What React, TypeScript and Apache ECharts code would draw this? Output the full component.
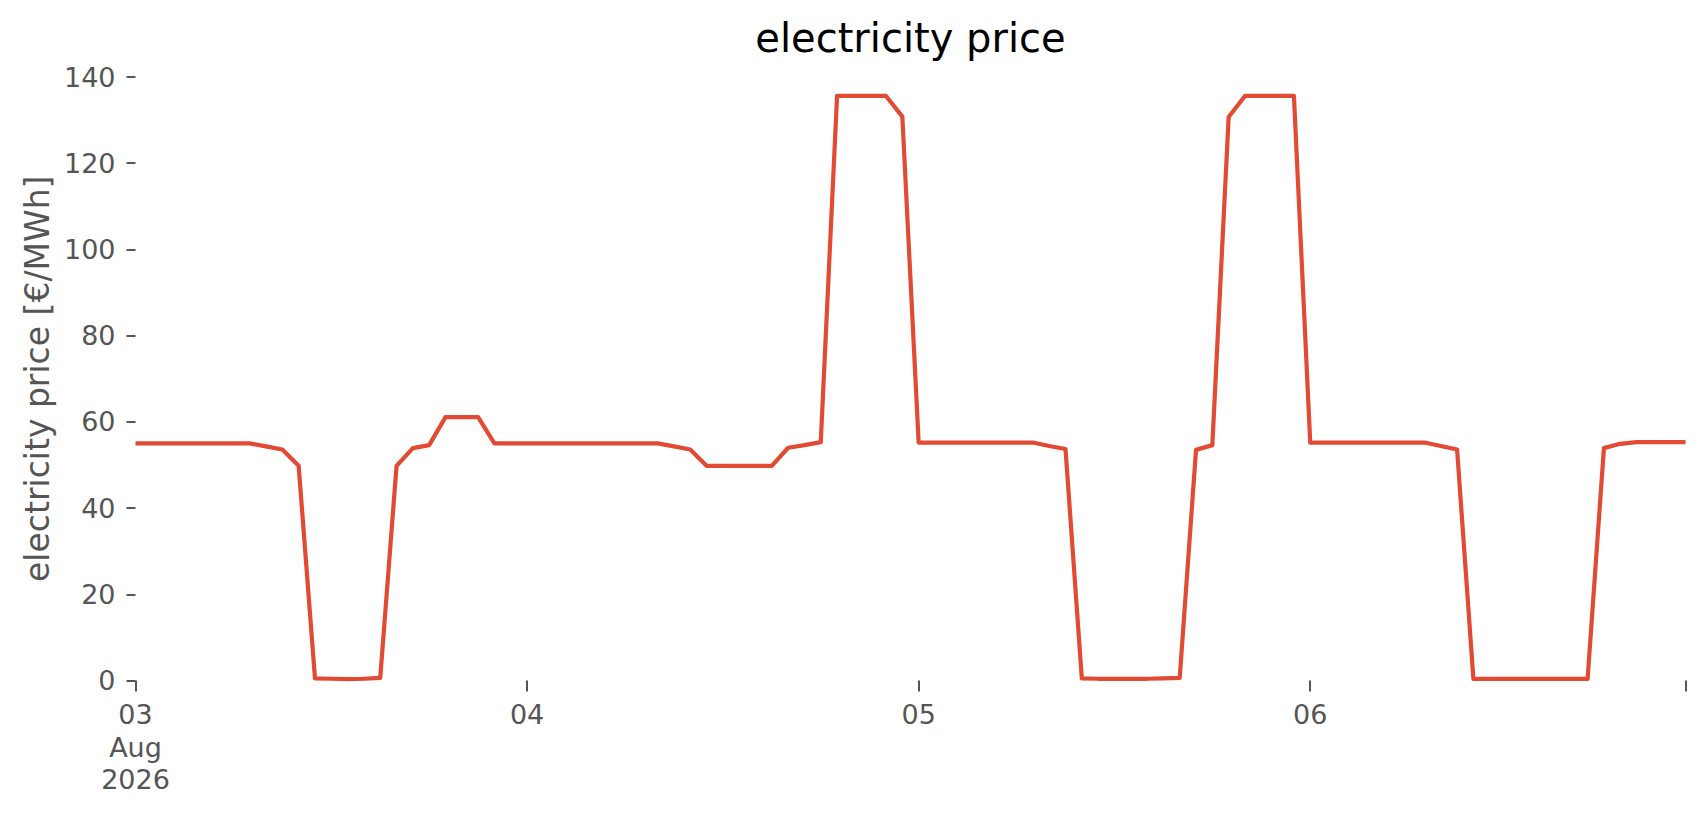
import React, { useEffect, useRef } from 'react'
import * as echarts from 'echarts'

// hourly prices from 03 Aug 2026 00:00, in €/MWh
const prices = [
  55.0, 55.0, 55.0, 55.0, 55.0, 55.0, 55.0, 55.0, 54.3, 53.6, 49.8, 0.5, 0.4, 0.3, 0.4, 0.6,
  49.8, 53.9, 54.6, 61.1, 61.1, 61.1, 55.0, 55.0, 55.0, 55.0, 55.0, 55.0, 55.0, 55.0, 55.0, 55.0,
  55.0, 54.3, 53.6, 49.8, 49.8, 49.8, 49.8, 49.8, 54.0, 54.6, 55.3, 135.6, 135.6, 135.6, 135.6, 130.8,
  55.2, 55.2, 55.2, 55.2, 55.2, 55.2, 55.2, 55.2, 54.4, 53.7, 0.5, 0.4, 0.4, 0.4, 0.4, 0.5,
  0.6, 53.5, 54.6, 130.7, 135.6, 135.6, 135.6, 135.6, 55.2, 55.2, 55.2, 55.2, 55.2, 55.2, 55.2, 55.2,
  54.4, 53.6, 0.4, 0.4, 0.4, 0.4, 0.4, 0.4, 0.4, 0.4, 53.9, 54.9, 55.3, 55.3, 55.3, 55.3,
]

const dayHours = [0, 24, 48, 72]
const dayLabels = ['03\nAug\n2026', '04', '05', '06']
const tickHours = [0, 24, 48, 72, 95]

const GREY = '#555555'
const FONT = '"DejaVu Sans", sans-serif'

export default function App() {
  const ref = useRef<HTMLDivElement | null>(null)

  useEffect(() => {
    if (!ref.current) return
    const chart = echarts.init(ref.current, null, { renderer: 'svg' })
    const left = 135.5, right = 20.5, top = 77, bottom = 134.5

    chart.setOption({
      animation: false,
      backgroundColor: '#ffffff',
      textStyle: { fontFamily: FONT },
      grid: { left, right, top, bottom, containLabel: false },
      graphic: [
        {
          type: 'text',
          x: left + (1706 - left - right) / 2,
          y: 38,
          style: {
            text: 'electricity price',
            fontFamily: FONT,
            fontSize: 40,
            fill: '#000000',
            align: 'center',
            verticalAlign: 'middle',
          },
        },
        {
          type: 'text',
          x: 37,
          y: top + (815 - top - bottom) / 2,
          rotation: Math.PI / 2,
          style: {
            text: 'electricity price [€/MWh]',
            fontFamily: FONT,
            fontSize: 33,
            fill: GREY,
            align: 'center',
            verticalAlign: 'middle',
          },
        },
      ],
      xAxis: {
        type: 'value',
        min: 0,
        max: prices.length - 1,
        axisLine: { show: false },
        splitLine: { show: false },
        axisTick: {
          show: true,
          length: 11,
          customValues: tickHours,
          lineStyle: { color: GREY, width: 2 },
        },
        axisLabel: {
          customValues: dayHours,
          formatter: (v: number) => dayLabels[dayHours.indexOf(v)] ?? '',
          color: GREY,
          fontFamily: FONT,
          fontSize: 27,
          lineHeight: 32.5,
          margin: 18,
        },
      },
      yAxis: {
        type: 'value',
        min: 0,
        max: 140,
        interval: 20,
        axisLine: { show: false },
        splitLine: { show: false },
        axisTick: { show: true, length: 9, lineStyle: { color: GREY, width: 2 } },
        axisLabel: { color: GREY, fontFamily: FONT, fontSize: 27, margin: 20 },
      },
      series: [
        {
          type: 'line',
          data: prices.map((p, i) => [i, p]),
          showSymbol: false,
          lineStyle: { color: '#E24A33', width: 4.2, join: 'round' },
        },
      ],
    } as any)

    return () => chart.dispose()
  }, [])

  return <div ref={ref} style={{ position: 'fixed', left: 0, top: 0, width: 1706, height: 815 }} />
}
